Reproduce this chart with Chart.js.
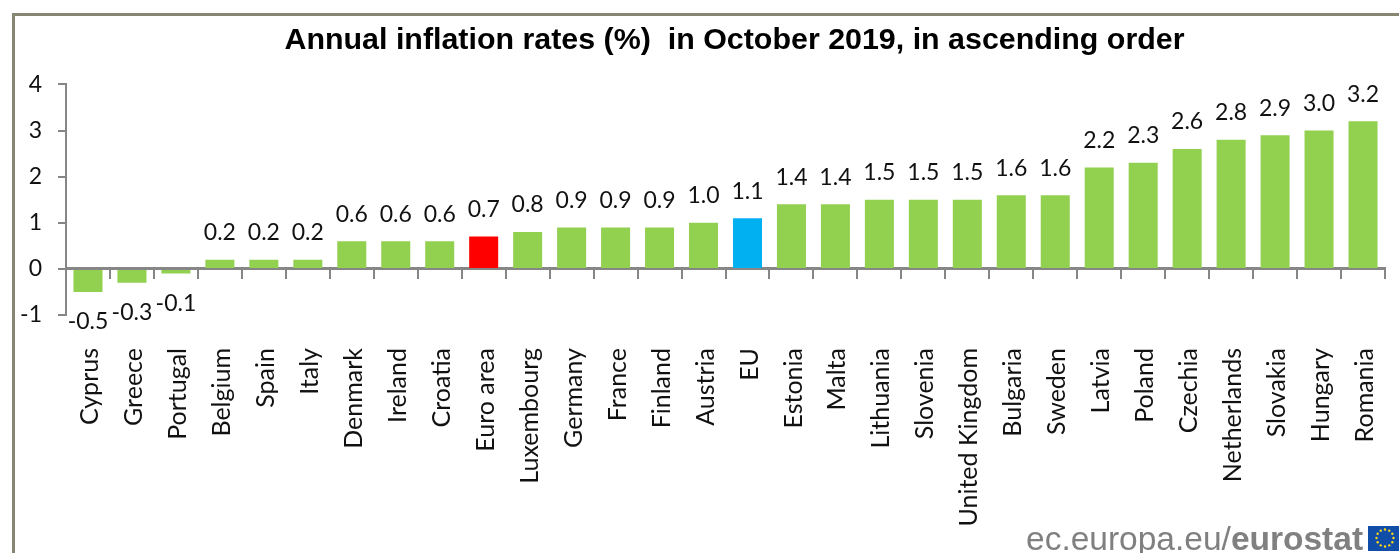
<!DOCTYPE html>
<html><head><meta charset="utf-8">
<style>html,body{margin:0;padding:0;background:#fff}#w{width:1399px;height:553px;position:relative}</style>
<script src="https://cdn.jsdelivr.net/npm/chart.js@4"></script></head>
<body><div id="w"><canvas id="c" width="1399" height="553"></canvas></div>
<script>
const categories=["Cyprus","Greece","Portugal","Belgium","Spain","Italy","Denmark","Ireland","Croatia","Euro area","Luxembourg","Germany","France","Finland","Austria","EU","Estonia","Malta","Lithuania","Slovenia","United Kingdom","Bulgaria","Sweden","Latvia","Poland","Czechia","Netherlands","Slovakia","Hungary","Romania"];
const values=[-0.5,-0.3,-0.1,0.2,0.2,0.2,0.6,0.6,0.6,0.7,0.8,0.9,0.9,0.9,1.0,1.1,1.4,1.4,1.5,1.5,1.5,1.6,1.6,2.2,2.3,2.6,2.8,2.9,3.0,3.2];
const titleText="Annual inflation rates (%)  in October 2019, in ascending order";
const GREEN="#92D050",RED="#FF0000",BLUE="#00B0F0",AXIS="#868686",FRAME="#868672",TEXT="#111111";
const FONT="Lato, 'Open Sans', sans-serif";
const barColors=categories.map(c=>c==="Euro area"?RED:c==="EU"?BLUE:GREEN);

const valueLabels={id:"valueLabels",afterDatasetsDraw(ch){
  const g=ch.ctx,m=ch.getDatasetMeta(0);
  g.save();g.font="23px "+FONT;g.fillStyle=TEXT;g.textAlign="center";g.textBaseline="middle";
  m.data.forEach((b,i)=>{const v=values[i];
    g.fillText(v.toFixed(1),b.x,v>=0?b.y-27:b.y+30);});
  g.restore();
}};
const decor={id:"decor",afterLayout(ch){ch.titleBlock.left+=84;},beforeDraw(ch){
  const g=ch.ctx;g.save();
  g.fillStyle="#fff";g.fillRect(0,0,1399,553);
  g.strokeStyle=FRAME;g.lineWidth=3;
  g.beginPath();g.moveTo(13.5,553);g.lineTo(13.5,14.5);g.lineTo(1399,14.5);g.stroke();
  g.restore();
},afterDraw(ch){
  const g=ch.ctx;g.save();
  g.textBaseline="alphabetic";g.textAlign="left";g.fillStyle="#808080";
  g.font="33.5px 'Liberation Sans'";
  const a="ec.europa.eu/";g.fillText(a,1026,550);
  const w=g.measureText(a).width;
  g.font="bold 33.5px 'Liberation Sans'";g.fillText("eurostat",1026+w,550);
  g.fillStyle="#0F4DA8";g.fillRect(1368,526,31,25);
  g.fillStyle="#FFD617";
  for(let k=0;k<12;k++){const t=k*Math.PI/6;
    g.beginPath();g.arc(1385+8.5*Math.cos(t),538+8.5*Math.sin(t),1.2,0,7);g.fill();}
  g.restore();
}};
new Chart(document.getElementById("c"),{
  type:"bar",
  data:{labels:categories,datasets:[{data:values,backgroundColor:barColors,barPercentage:0.66,categoryPercentage:1,xAxisID:"x"}]},
  plugins:[decor,valueLabels],
  options:{
    responsive:false,animation:false,
    layout:{padding:{left:0,right:14,top:0,bottom:0}},
    plugins:{legend:{display:false},tooltip:{enabled:false},
      title:{display:true,text:titleText,color:"#000",font:{family:"'Liberation Sans'",size:30.4,weight:"bold",lineHeight:1.2},padding:{top:22.25,bottom:25.75}}},
    scales:{
      x:{position:"bottom",grid:{display:false},border:{display:false},
        ticks:{autoSkip:false,minRotation:90,maxRotation:90,padding:25,labelOffset:2,color:TEXT,font:{family:FONT,size:25}},
        afterFit(s){s.height=238;s.paddingLeft=0;s.paddingRight=0;}},
      zero:{type:"category",axis:"x",labels:categories,position:{y:0},
        grid:{display:true,drawOnChartArea:false,drawTicks:true,tickLength:9,color:AXIS,lineWidth:2,offset:true},
        border:{display:true,color:AXIS,width:3},ticks:{display:false},
        afterFit(s){s.paddingLeft=0;s.paddingRight=0;}},
      y:{min:-1,max:4,
        grid:{display:true,drawOnChartArea:false,drawTicks:true,tickLength:8,color:AXIS,lineWidth:2},
        border:{display:true,color:AXIS,width:2},
        ticks:{stepSize:1,padding:16,color:TEXT,font:{family:FONT,size:23},callback:v=>String(v)},
        afterFit(s){s.width=66;}}
    }
  }
});
</script></body></html>
